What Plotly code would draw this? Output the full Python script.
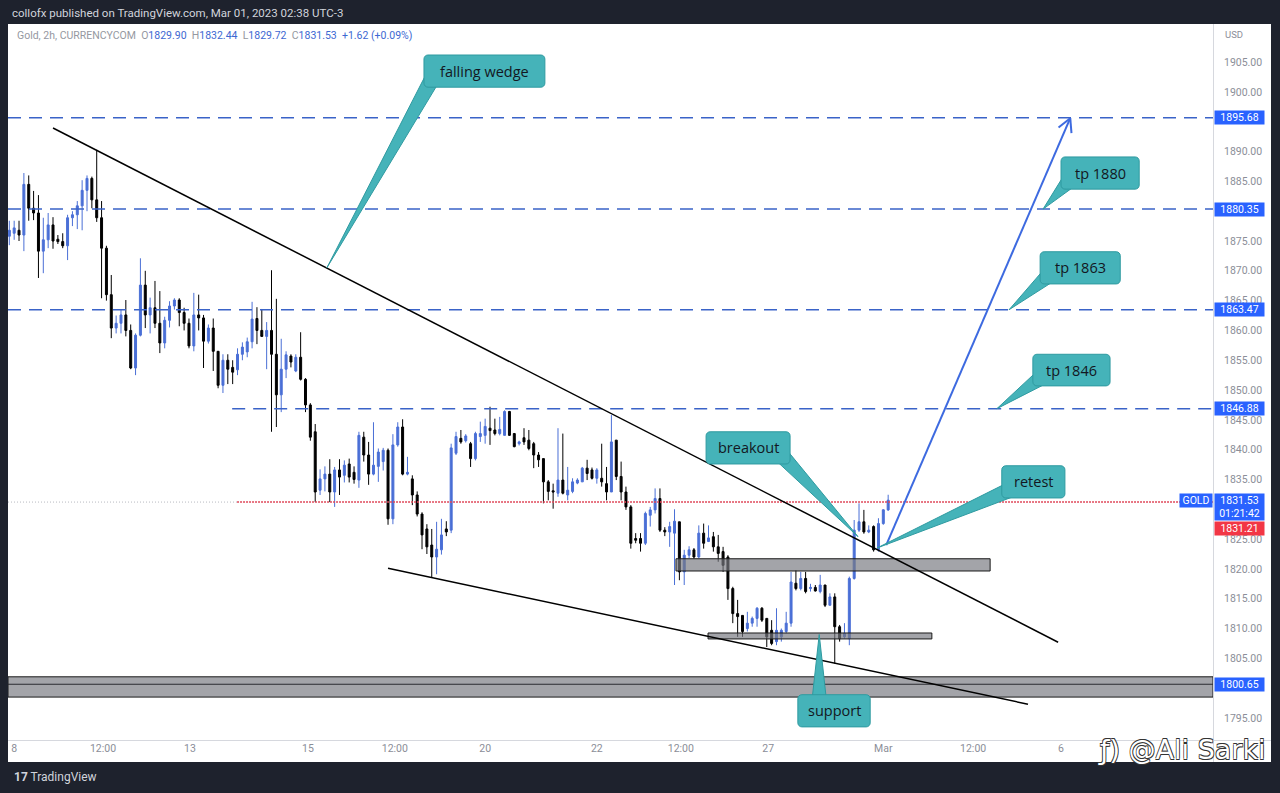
import math
import plotly.graph_objects as go

# ---------------- data (2h candles, bar index 0..181) ----------------
opens = [
    1875.8, 1876.3, 1876.8, 1876.0, 1884.5, 1880.5, 1879.7, 1873.3, 1875.2, 1877.7,
    1875.3, 1874.9, 1874.2, 1878.9, 1879.4, 1880.9, 1883.5, 1885.5, 1881.9, 1878.9,
    1873.8, 1866.0, 1860.4, 1861.2, 1862.6, 1860.0, 1853.7, 1859.2, 1867.6, 1862.6,
    1863.8, 1861.2, 1857.9, 1861.7, 1864.1, 1865.1, 1863.0, 1861.2, 1857.4, 1862.6,
    1862.1, 1858.2, 1860.4, 1856.5, 1850.8, 1855.0, 1853.8, 1853.4, 1856.0, 1856.4,
    1858.1, 1862.0, 1860.0, 1859.0, 1860.0, 1856.0, 1849.2, 1853.5, 1855.7, 1853.2,
    1855.5, 1851.8, 1847.5, 1843.0, 1833.2, 1835.1, 1835.9, 1832.9, 1836.6, 1835.7,
    1837.6, 1836.2, 1834.9, 1842.1, 1839.1, 1835.9, 1837.2, 1838.0, 1839.9, 1828.4,
    1840.8, 1843.8, 1835.9, 1835.1, 1832.4, 1829.2, 1826.7, 1824.0, 1822.0, 1823.2,
    1826.7, 1826.5, 1839.4, 1841.9, 1841.5, 1841.0, 1838.5, 1842.2, 1842.4, 1843.6,
    1843.3, 1842.7, 1842.4, 1846.4, 1842.7, 1841.0, 1842.0, 1841.6, 1841.0, 1839.1,
    1838.5, 1834.6, 1833.1, 1832.7, 1834.9, 1832.4, 1833.0, 1834.4, 1834.6, 1836.9,
    1836.6, 1835.2, 1835.2, 1834.3, 1832.9, 1841.6, 1835.5, 1832.9, 1830.4, 1825.1,
    1825.1, 1824.3, 1829.0, 1829.9, 1831.8, 1826.5, 1826.2, 1826.0, 1827.9, 1819.5,
    1822.3, 1823.2, 1822.0, 1826.0, 1824.6, 1825.4, 1823.7, 1822.9, 1822.0, 1816.7,
    1812.5, 1812.2, 1810.0, 1810.9, 1811.7, 1813.4, 1811.7, 1809.7, 1807.8, 1808.6,
    1809.5, 1810.9, 1817.6, 1816.7, 1818.4, 1816.7, 1816.9, 1816.2, 1817.3, 1813.9,
    1815.3, 1810.3, 1808.6, 1808.3, 1818.4, 1826.5, 1827.9, 1826.2, 1827.1, 1823.2,
    1827.6, 1829.90,
]
highs = [
    1878.4, 1878.4, 1878.4, 1886.4, 1886.0, 1883.4, 1882.7, 1878.9, 1879.7, 1879.0,
    1876.0, 1876.3, 1879.4, 1880.0, 1881.7, 1885.2, 1886.0, 1885.8, 1890.3, 1881.7,
    1874.2, 1869.3, 1862.5, 1863.5, 1865.1, 1861.0, 1859.5, 1872.1, 1870.0, 1865.5,
    1868.3, 1866.6, 1862.3, 1864.9, 1865.4, 1865.4, 1863.8, 1862.0, 1866.3, 1866.0,
    1862.6, 1861.0, 1862.0, 1856.5, 1856.0, 1856.0, 1855.0, 1857.0, 1858.0, 1858.8,
    1864.8, 1863.9, 1863.6, 1861.4, 1870.1, 1865.3, 1858.6, 1856.5, 1856.0, 1856.0,
    1859.7, 1852.0, 1847.8, 1844.3, 1836.7, 1837.2, 1838.4, 1837.1, 1838.4, 1838.2,
    1838.5, 1837.2, 1843.0, 1843.0, 1841.3, 1844.6, 1840.2, 1840.3, 1840.2, 1842.6,
    1844.6, 1845.1, 1838.8, 1835.7, 1833.0, 1829.5, 1827.5, 1826.7, 1827.9, 1828.4,
    1828.0, 1841.0, 1843.0, 1843.3, 1842.6, 1841.3, 1843.0, 1844.7, 1845.2, 1847.2,
    1845.2, 1845.5, 1846.6, 1846.5, 1842.8, 1841.5, 1843.6, 1843.3, 1841.3, 1839.6,
    1838.5, 1834.9, 1834.3, 1843.6, 1842.7, 1837.1, 1835.2, 1835.2, 1837.1, 1838.3,
    1837.0, 1836.9, 1841.0, 1837.1, 1845.8, 1841.6, 1838.0, 1833.8, 1830.7, 1826.0,
    1826.0, 1829.6, 1830.4, 1833.5, 1833.5, 1827.0, 1827.9, 1830.0, 1827.9, 1823.2,
    1823.8, 1823.5, 1827.3, 1827.6, 1827.3, 1826.2, 1825.7, 1823.7, 1822.3, 1817.0,
    1814.8, 1812.2, 1812.8, 1812.0, 1813.6, 1813.6, 1811.7, 1811.4, 1813.4, 1810.0,
    1812.8, 1819.5, 1819.8, 1819.5, 1819.5, 1817.5, 1817.3, 1819.0, 1817.3, 1815.9,
    1815.9, 1810.6, 1810.9, 1818.7, 1828.2, 1831.0, 1829.9, 1827.3, 1827.3, 1828.5,
    1830.0, 1832.44,
]
lows = [
    1874.3, 1875.2, 1875.0, 1873.3, 1878.4, 1878.5, 1868.8, 1869.6, 1873.8, 1873.7,
    1874.5, 1873.8, 1871.8, 1877.5, 1877.0, 1876.8, 1880.0, 1880.5, 1878.2, 1865.4,
    1865.0, 1858.7, 1859.5, 1859.5, 1859.0, 1853.5, 1852.5, 1859.0, 1860.4, 1859.5,
    1860.4, 1856.2, 1857.0, 1860.5, 1863.5, 1860.7, 1860.0, 1857.0, 1856.5, 1860.0,
    1853.7, 1857.8, 1853.2, 1850.3, 1849.5, 1851.0, 1851.0, 1852.5, 1855.0, 1855.5,
    1857.0, 1857.7, 1858.9, 1853.5, 1843.0, 1843.8, 1846.3, 1852.0, 1853.8, 1853.0,
    1851.6, 1846.3, 1841.5, 1831.2, 1832.4, 1833.0, 1831.2, 1830.4, 1832.4, 1834.5,
    1834.5, 1834.3, 1833.6, 1838.0, 1834.1, 1835.7, 1834.6, 1836.5, 1827.4, 1827.5,
    1840.5, 1835.7, 1835.7, 1830.7, 1828.8, 1823.3, 1822.5, 1818.6, 1819.1, 1822.4,
    1825.5, 1826.0, 1839.1, 1841.0, 1841.2, 1837.1, 1838.2, 1841.3, 1841.0, 1840.8,
    1842.4, 1842.4, 1842.4, 1842.3, 1840.4, 1840.7, 1840.8, 1839.9, 1836.9, 1837.1,
    1831.0, 1831.5, 1830.1, 1832.1, 1832.5, 1831.5, 1832.7, 1834.2, 1834.6, 1834.9,
    1835.0, 1834.3, 1833.8, 1831.5, 1832.9, 1834.9, 1831.5, 1829.9, 1823.4, 1824.3,
    1822.9, 1824.0, 1827.1, 1829.3, 1826.2, 1825.5, 1823.7, 1817.3, 1818.1, 1817.3,
    1821.8, 1821.7, 1821.8, 1823.4, 1824.5, 1822.9, 1821.2, 1819.5, 1814.8, 1810.9,
    1808.6, 1808.6, 1809.5, 1810.3, 1810.3, 1811.1, 1806.9, 1807.2, 1807.2, 1807.8,
    1809.2, 1810.3, 1816.4, 1816.4, 1815.9, 1816.2, 1816.2, 1815.9, 1813.6, 1813.9,
    1804.1, 1807.8, 1808.3, 1807.2, 1818.2, 1826.2, 1825.9, 1826.0, 1822.9, 1822.9,
    1827.4, 1829.72,
]
closes = [
    1876.8, 1877.2, 1876.0, 1884.5, 1880.5, 1879.7, 1873.3, 1875.2, 1877.7, 1875.0,
    1874.9, 1874.2, 1878.9, 1879.4, 1880.9, 1883.5, 1885.5, 1881.9, 1878.9, 1873.8,
    1866.0, 1860.4, 1861.2, 1862.6, 1860.0, 1853.7, 1859.2, 1867.6, 1862.6, 1863.8,
    1861.2, 1857.9, 1861.7, 1864.1, 1865.1, 1863.0, 1861.2, 1857.4, 1862.6, 1862.1,
    1858.2, 1860.4, 1856.5, 1850.8, 1855.0, 1853.5, 1853.0, 1856.0, 1857.2, 1858.1,
    1861.9, 1860.0, 1859.0, 1860.0, 1856.0, 1849.2, 1853.5, 1855.9, 1854.7, 1855.5,
    1851.8, 1847.5, 1842.1, 1832.9, 1835.1, 1835.9, 1832.9, 1836.6, 1835.4, 1837.4,
    1835.4, 1835.0, 1842.4, 1839.1, 1835.9, 1837.4, 1839.6, 1839.9, 1828.4, 1840.8,
    1843.8, 1835.9, 1836.2, 1832.4, 1829.2, 1825.7, 1823.7, 1822.0, 1823.3, 1825.7,
    1826.2, 1840.3, 1842.2, 1841.3, 1842.3, 1838.5, 1842.7, 1842.7, 1843.9, 1843.2,
    1842.7, 1843.4, 1846.4, 1842.4, 1840.5, 1841.3, 1841.3, 1840.2, 1839.1, 1838.3,
    1834.6, 1833.0, 1832.9, 1834.9, 1832.7, 1833.2, 1834.6, 1834.9, 1836.9, 1836.0,
    1835.2, 1836.6, 1834.6, 1832.9, 1841.3, 1835.5, 1832.9, 1830.4, 1824.3, 1824.8,
    1824.3, 1829.3, 1829.9, 1831.8, 1826.5, 1826.2, 1827.1, 1828.0, 1819.5, 1822.3,
    1823.2, 1822.0, 1826.0, 1824.3, 1825.2, 1823.7, 1822.6, 1820.6, 1816.7, 1812.5,
    1812.0, 1809.5, 1810.9, 1811.7, 1813.4, 1811.4, 1808.6, 1807.5, 1809.7, 1809.7,
    1810.9, 1817.8, 1816.7, 1818.4, 1816.2, 1816.9, 1816.3, 1817.3, 1813.9, 1815.3,
    1810.3, 1808.3, 1809.2, 1818.4, 1826.5, 1827.9, 1826.2, 1826.5, 1823.2, 1827.6,
    1829.91, 1831.53,
]
bars = list(range(len(opens)))

time_tick_pos = [1, 19.3, 37.2, 61.5, 79.4, 98, 121, 138.3, 156.3, 180, 198.5, 216.6]
time_tick_text = ["8", "12:00", "13", "15", "12:00", "20", "22", "12:00", "27", "Mar", "12:00", "6"]
# price-axis ticks that stay visible (the others sit under the level boxes)
price_ticks = [1795, 1805, 1810, 1815, 1820, 1825, 1835, 1840, 1845, 1850,
               1855, 1860, 1865, 1870, 1875, 1885, 1890, 1900, 1905]

# horizontal target levels (dashed) and where they start (bar index)
level_prices = [1895.68, 1880.35, 1863.47, 1846.88]
level_start = [-0.27, -0.27, -0.27, 45.9]
support_level = 1800.65
marker_price = 1831.21
marker_start = 46.9

# wedge trend lines (bar index, price)
upper_x = [9.0, 216.0]
upper_y = [1893.96, 1807.7]
lower_x = [78.0, 209.8]
lower_y = [1820.1, 1797.3]
arrow_x = [180.6, 218.5]
arrow_y = [1824.0, 1895.6]

# grey zones
zone_x0 = [137.3, 143.9, -0.27]
zone_x1 = [202.0, 190.0, 247.9]
zone_y0 = [1819.65, 1808.25, 1798.5]
zone_y1 = [1821.7, 1809.25, 1801.9]

# callouts: box (bar index / price) and anchor point
callout_text = ["falling wedge", "tp 1880", "tp 1863", "tp 1846", "breakout", "retest", "support"]
callout_x0 = [85.4, 216.6, 212.3, 210.8, 143.5, 204.4, 162.4]
callout_x1 = [110.3, 232.7, 228.8, 226.7, 160.8, 217.4, 177.3]
callout_ytop = [1906.2, 1889.1, 1873.2, 1856.0, 1843.0, 1837.3, 1798.9]
callout_ybot = [1900.8, 1883.7, 1867.8, 1850.7, 1837.6, 1831.9, 1793.5]
callout_ax = [65.4, 212.9, 205.9, 203.4, 174.8, 178.7, 166.8]
callout_ay = [1870.5, 1880.35, 1863.47, 1846.88, 1825.4, 1823.5, 1809.0]

# ---------------- geometry helpers ----------------
W, H = 1280, 793
ML, MR, MT, MB = 8, 67, 24, 53
PW, PH = W - ML - MR, H - MT - MB
XR = [-0.27, 247.9]
YR = [1791.3, 1911.4]
SX = PW / (XR[1] - XR[0])
SY = PH / (YR[1] - YR[0])


def to_px(j, p):
    return ML + (j - XR[0]) * SX, MT + (YR[1] - p) * SY


def to_data(X, Y):
    return XR[0] + (X - ML) / SX, YR[1] - (Y - MT) / SY


def paper_x(X):
    return (X - ML) / PW


def paper_y(Y):
    return (MT + PH - Y) / PH


def path_from_px(points, close=True):
    parts = []
    for k, (X, Y) in enumerate(points):
        j, p = to_data(X, Y)
        parts.append(("M" if k == 0 else "L") + f" {j:.4f},{p:.4f}")
    return " ".join(parts) + (" Z" if close else "")


def rounded_rect_px(L, T, R, B, r=4, steps=4):
    pts = []
    corners = [(R - r, T + r, -90), (R - r, B - r, 0), (L + r, B - r, 90), (L + r, T + r, 180)]
    for cx, cy, a0 in corners:
        for s in range(steps + 1):
            a = math.radians(a0 + 90 * s / steps)
            pts.append((cx + r * math.cos(a), cy + r * math.sin(a)))
    return pts


UP = "#4a6fd6"
DN = "#000000"
BLUE_LINE = "#3a63c8"
TEAL = "#45b3b9"
TEAL_EDGE = "#2f9aa0"
AXIS_TXT = "#8b8e98"
DARK = "#1e222d"

fig = go.Figure()
fig.add_trace(go.Candlestick(
    x=bars, open=opens, high=highs, low=lows, close=closes,
    increasing=dict(line=dict(color=UP, width=1), fillcolor=UP),
    decreasing=dict(line=dict(color=DN, width=1), fillcolor=DN),
    whiskerwidth=0, hoverinfo="skip", showlegend=False,
))

shapes = []
# white chart + axes panel
shapes.append(dict(type="rect", xref="paper", yref="paper", layer="below",
                   x0=paper_x(8), x1=paper_x(1271), y0=paper_y(762), y1=paper_y(24),
                   fillcolor="white", line=dict(width=0)))
# separators
shapes.append(dict(type="line", xref="paper", yref="paper", x0=paper_x(1213.5), x1=paper_x(1213.5),
                   y0=paper_y(762), y1=paper_y(24), line=dict(color="#d6d8de", width=1)))
shapes.append(dict(type="line", xref="paper", yref="paper", x0=paper_x(8), x1=paper_x(1271),
                   y0=paper_y(740.5), y1=paper_y(740.5), line=dict(color="#d6d8de", width=1)))

# grey dotted + red dotted line
shapes.append(dict(type="line", xref="x", yref="y", x0=XR[0], x1=marker_start,
                   y0=marker_price, y1=marker_price, layer="above",
                   line=dict(color="#b8bac2", width=1, dash="1px,2px")))
shapes.append(dict(type="line", xref="x", yref="y", x0=marker_start, x1=XR[1],
                   y0=marker_price, y1=marker_price, layer="above",
                   line=dict(color="#e0485a", width=1.5, dash="2px,1px")))

# dashed target levels
for p, s in zip(level_prices, level_start):
    shapes.append(dict(type="line", xref="x", yref="y", x0=s, x1=XR[1], y0=p, y1=p,
                       layer="above", line=dict(color=BLUE_LINE, width=1.5, dash="13px,8px")))

# grey zones
for x0, x1, y0, y1 in zip(zone_x0, zone_x1, zone_y0, zone_y1):
    shapes.append(dict(type="rect", xref="x", yref="y", x0=x0, x1=x1, y0=y0, y1=y1,
                       layer="above", fillcolor="rgba(120,121,128,0.68)",
                       line=dict(color="#1a1a1a", width=1)))
shapes.append(dict(type="line", xref="x", yref="y", x0=XR[0], x1=XR[1],
                   y0=support_level, y1=support_level, layer="above",
                   line=dict(color="#2b2b30", width=1)))

# wedge lines
shapes.append(dict(type="line", xref="x", yref="y", x0=upper_x[0], x1=upper_x[1],
                   y0=upper_y[0], y1=upper_y[1], layer="above", line=dict(color="#000", width=1.5)))
shapes.append(dict(type="line", xref="x", yref="y", x0=lower_x[0], x1=lower_x[1],
                   y0=lower_y[0], y1=lower_y[1], layer="above", line=dict(color="#000", width=1.5)))

# projection arrow
shapes.append(dict(type="line", xref="x", yref="y", x0=arrow_x[0], x1=arrow_x[1],
                   y0=arrow_y[0], y1=arrow_y[1], layer="above", line=dict(color="#3d6ae0", width=2)))
tx, ty = to_px(arrow_x[1], arrow_y[1])
sx_, sy_ = to_px(arrow_x[0], arrow_y[0])
n = math.hypot(tx - sx_, ty - sy_)
bx, by = (sx_ - tx) / n, (sy_ - ty) / n
for ang in (28, -28):
    a = math.radians(ang)
    hx = bx * math.cos(a) - by * math.sin(a)
    hy = bx * math.sin(a) + by * math.cos(a)
    shapes.append(dict(type="path", xref="x", yref="y", layer="above",
                       path=path_from_px([(tx, ty), (tx + 15 * hx, ty + 15 * hy)], close=False),
                       line=dict(color="#3d6ae0", width=2)))

# callouts
annotations = []
for k in range(len(callout_text)):
    L, T = to_px(callout_x0[k], callout_ytop[k])
    R, B = to_px(callout_x1[k], callout_ybot[k])
    ax, ay = to_px(callout_ax[k], callout_ay[k])
    inset = 8
    cx = min(max(ax, L + inset), R - inset)
    cy = min(max(ay, T + inset), B - inset)
    dxp, dyp = ax - cx, ay - cy
    nn = math.hypot(dxp, dyp) or 1.0
    ux, uy = dxp / nn, dyp / nn
    px_, py_ = -uy, ux
    hw = 7.5
    tail = [(ax, ay), (cx + px_ * hw, cy + py_ * hw), (cx - px_ * hw, cy - py_ * hw)]
    shapes.append(dict(type="path", xref="x", yref="y", layer="above", path=path_from_px(tail),
                       fillcolor=TEAL, line=dict(color=TEAL_EDGE, width=1)))
    shapes.append(dict(type="path", xref="x", yref="y", layer="above",
                       path=path_from_px(rounded_rect_px(L, T, R, B)),
                       fillcolor=TEAL, line=dict(color=TEAL_EDGE, width=1)))
    annotations.append(dict(x=(callout_x0[k] + callout_x1[k]) / 2,
                            y=(callout_ytop[k] + callout_ybot[k]) / 2,
                            xref="x", yref="y", text=callout_text[k], showarrow=False,
                            font=dict(family="Open Sans", size=14.5, color="#131722")))

# header + legend
annotations.append(dict(xref="paper", yref="paper", x=paper_x(10), y=paper_y(12.5),
                        xanchor="left", yanchor="middle", showarrow=False,
                        text="collofx published on TradingView.com, Mar 01, 2023 02:38 UTC-3",
                        font=dict(family="Roboto", size=11.5, color="#d1d4dc")))
prev_close = closes[-2]
chg = closes[-1] - prev_close
pct = chg / prev_close * 100
g = "#9598a1"
b = "#3d68d2"
legend_txt = (f"<span style='color:{g}'>Gold, 2h, CURRENCYCOM</span>\u00a0\u00a0"
              f"<span style='color:{g}'>O</span><span style='color:{b}'>{opens[-1]:.2f}</span>\u00a0\u00a0"
              f"<span style='color:{g}'>H</span><span style='color:{b}'>{highs[-1]:.2f}</span>\u00a0\u00a0"
              f"<span style='color:{g}'>L</span><span style='color:{b}'>{lows[-1]:.2f}</span>\u00a0\u00a0"
              f"<span style='color:{g}'>C</span><span style='color:{b}'>{closes[-1]:.2f}</span>\u00a0\u00a0"
              f"<span style='color:{b}'>{chg:+.2f} ({pct:+.2f}%)</span>")
annotations.append(dict(xref="paper", yref="paper", x=paper_x(15), y=paper_y(35),
                        xanchor="left", yanchor="middle", showarrow=False, text=legend_txt,
                        font=dict(family="Roboto", size=10.5, color=g)))
annotations.append(dict(xref="paper", yref="paper", x=paper_x(1223), y=paper_y(34),
                        xanchor="left", yanchor="middle", showarrow=False, text="USD",
                        font=dict(family="Roboto", size=9.5, color=AXIS_TXT)))

# price-axis labels
AXX = paper_x(1214)
for p in level_prices + [support_level]:
    annotations.append(dict(xref="paper", yref="y", x=AXX, y=p, xanchor="left", yanchor="middle",
                            showarrow=False, text=f"{p:.2f}", bgcolor="#2962ff", width=49, height=13,
                            align="center", borderpad=0,
                            font=dict(family="Roboto", size=10.5, color="white")))
annotations.append(dict(xref="paper", yref="y", x=AXX, y=closes[-1], xanchor="left", yanchor="top",
                        yshift=7, showarrow=False, text=f"{closes[-1]:.2f}<br>01:21:42",
                        bgcolor="#2962ff", width=49, height=26, align="center", borderpad=0,
                        font=dict(family="Roboto", size=10.5, color="white")))
annotations.append(dict(xref="paper", yref="y", x=AXX, y=marker_price, xanchor="left", yanchor="top",
                        yshift=-19, showarrow=False, text=f"{marker_price:.2f}",
                        bgcolor="#f23645", width=49, height=13, align="center", borderpad=0,
                        font=dict(family="Roboto", size=10.5, color="white")))
annotations.append(dict(xref="paper", yref="y", x=paper_x(1213), y=closes[-1], xanchor="right",
                        yanchor="middle", showarrow=False, text="GOLD", bgcolor="#2962ff",
                        width=32, height=13, align="center", borderpad=0,
                        font=dict(family="Roboto", size=10.5, color="white")))

# watermark + footer
annotations.append(dict(xref="paper", yref="paper", x=paper_x(1268), y=paper_y(749),
                        xanchor="right", yanchor="middle", showarrow=False,
                        text="ƒ) @Ali Sarki",
                        font=dict(family="DejaVu Sans", size=27, color="white",
                                  shadow="0.7px 0.7px 0 #333, -0.7px -0.7px 0 #333, 0.7px -0.7px 0 #333, -0.7px 0.7px 0 #333")))
annotations.append(dict(xref="paper", yref="paper", x=paper_x(12), y=paper_y(777),
                        xanchor="left", yanchor="middle", showarrow=False,
                        text="<b>17</b> TradingView",
                        font=dict(family="Roboto", size=12, color="#d1d4dc")))

fig.update_layout(
    width=W, height=H,
    margin=dict(l=ML, r=MR, t=MT, b=MB, pad=0),
    paper_bgcolor=DARK, plot_bgcolor="white",
    showlegend=False, hovermode=False, boxgap=0.42,
    shapes=shapes, annotations=annotations,
    xaxis=dict(range=XR, showgrid=False, zeroline=False, rangeslider=dict(visible=False),
               tickmode="array", tickvals=time_tick_pos, ticktext=time_tick_text,
               ticks="", showline=False, tickfont=dict(family="Roboto", size=10.5, color=AXIS_TXT)),
    yaxis=dict(range=YR, side="right", showgrid=False, zeroline=False, tickmode="array",
               tickvals=price_ticks, ticktext=[f"{v:.2f}" for v in price_ticks], ticks="",
               showline=False, ticklabelstandoff=10,
               tickfont=dict(family="Roboto", size=10.5, color=AXIS_TXT)),
)

fig.write_html("out.html")
